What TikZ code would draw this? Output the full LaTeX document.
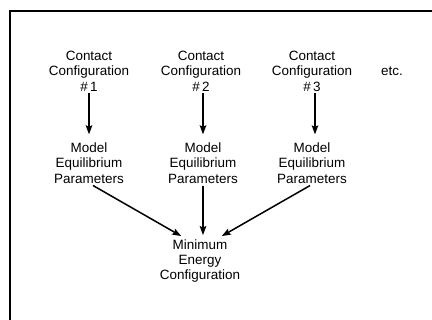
\documentclass[tikz,border=0pt]{standalone}
\usepackage{fontspec}
\setmainfont{Liberation Sans}
\usepackage{tikz}
\usetikzlibrary{arrows.meta, positioning}
\tikzset{
  >={Stealth[length=9bp, width=6.5bp, inset=1.5bp]},
  lbl/.style={align=center, inner sep=2bp, font=\fontsize{13.5}{15.5}\selectfont},
  flow/.style={->, line width=1.6bp, draw=black, shorten >=6bp},
  flowd/.style={->, line width=1.5bp, draw=black, shorten >=2bp},
  frame/.style={line width=2bp, draw=black},
}

\begin{document}
\begin{tikzpicture}[x=1bp, y=-1bp]
  \useasboundingbox (0,0) rectangle (432,320);
  \draw[frame] (10,320) |- (432,11);
  % contact configurations
  \node[lbl] (c1) at (89,71) {Contact\\Configuration\\\#\,1};
  \node[lbl] (c2) at (201,71) {Contact\\Configuration\\\#\,2};
  \node[lbl] (c3) at (312,71) {Contact\\Configuration\\\#\,3};
  \node[lbl] (etc) at (392,71) {etc.};
  % equilibrium parameters
  \node[lbl, below=47bp of c1] (m1) {Model\\Equilibrium\\Parameters};
  \node[lbl, below=47bp of c2, xshift=2bp] (m2) {Model\\Equilibrium\\Parameters};
  \node[lbl, below=47bp of c3] (m3) {Model\\Equilibrium\\Parameters};
  \node[lbl] (e) at (200,261) {Minimum\\Energy\\Configuration};
  \draw[flow] (c1.south) -- (m1.north);
  \draw[flow] ([xshift=2bp]c2.south) -- ([xshift=0bp]m2.north);
  \draw[flow] ([xshift=3bp]c3.south) -- ([xshift=3bp]m3.north);
  \draw[flowd] ([xshift=4bp]m1.south) -- ([xshift=-17bp]e.north);
  \draw[flowd] (m2.south) -- (m2.south |- e.north);
  \draw[flowd] ([xshift=-2bp]m3.south) -- ([xshift=20bp]e.north);
\end{tikzpicture}
\end{document}
